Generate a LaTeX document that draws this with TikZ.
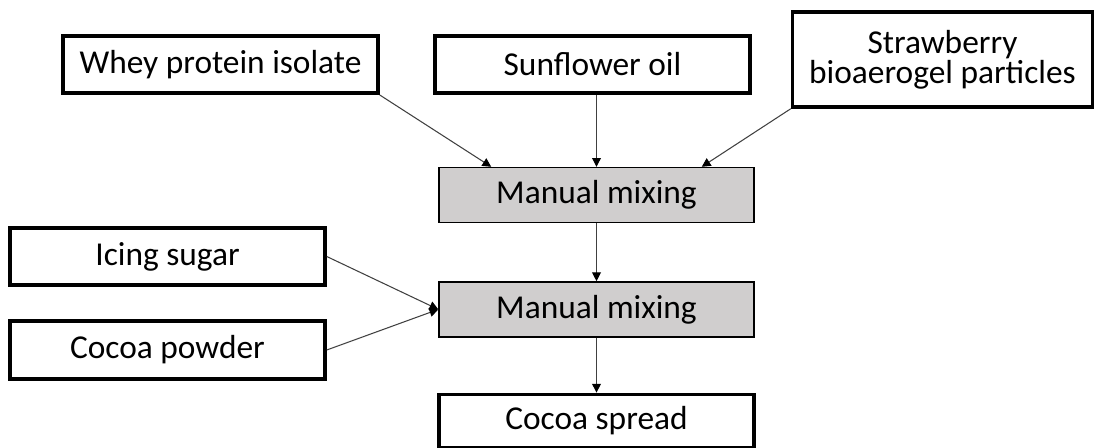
\documentclass[tikz,border=0pt]{standalone}
\usepackage{fontspec}
\setmainfont{Carlito}
\usepackage{xcolor}
\usetikzlibrary{positioning,arrows.meta}
\definecolor{mixGray}{HTML}{D0CECE}
\definecolor{lineGray}{HTML}{404040}

\begin{document}
\begin{tikzpicture}[font=\fontsize{19}{16}\selectfont,
    inbox/.style={draw,line width=2pt,fill=white,minimum width=6.3cm,
                minimum height=1.15cm,align=center,inner sep=2pt},
    mixbox/.style={draw,line width=0.8pt,fill=mixGray,minimum width=6.3cm,
                minimum height=1.1cm,align=center,inner sep=2pt},
    flow/.style={lineGray,line width=0.6pt,-{Triangle[length=5pt,width=5pt,black]}}]
    \useasboundingbox (0,0) rectangle (21.92,-8.96);
    \node[inbox] (whey)  at (4.41,-1.29)  {Whey protein isolate};
    \node[inbox] (oil)   at (11.85,-1.29) {Sunflower oil};
    \node[inbox,minimum width=6cm,minimum height=1.9cm] (straw) at (18.85,-1.19)
        {Strawberry\\bioaerogel particles};
    \node[mixbox] (mix1) at (11.93,-3.9) {Manual mixing};
    \node[mixbox,below=1.16cm of mix1] (mix2) {Manual mixing};
    \node[inbox,minimum height=1.06cm,below=1.1cm of mix2] (spread) {Cocoa spread};
    \node[inbox] (sugar) at (3.35,-5.13) {Icing sugar};
    \node[inbox] (cocoa) at (3.35,-7.0)  {Cocoa powder};

    \draw[flow] (whey.south east) -- (mix1.165);
    \draw[flow] (mix1.north |- oil.south) -- (mix1.north);
    \draw[flow] (straw.south west) -- (mix1.15);
    \draw[flow] (mix1) -- (mix2);
    \draw[flow] (sugar.east) -- (mix2.west);
    \draw[flow] (cocoa.east) -- (mix2.west);
    \draw[flow] (mix2) -- (spread);
\end{tikzpicture}
\end{document}
